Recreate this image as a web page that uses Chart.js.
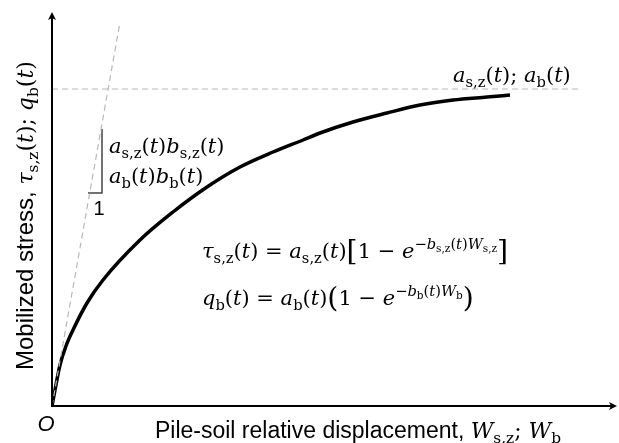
<!DOCTYPE html>
<html>
<head>
<meta charset="utf-8">
<script src="https://cdn.jsdelivr.net/npm/chart.js@4"></script>
<style>
  html, body { margin: 0; padding: 0; background: #fff; }
  #wrap { width: 619px; height: 443px; }
</style>
</head>
<body>
<div id="wrap"><canvas id="chart" width="619" height="443"></canvas></div>
<script>
// curve (x = displacement, y = stress, arbitrary units)
const curveX = [0, 3, 8, 14, 21, 35, 51, 88, 121, 155, 188, 221, 251, 268, 301, 335, 368, 401, 435, 458];
const curveY = [0, 16, 41, 60, 76, 103, 126, 166, 194, 219, 239, 254, 266, 273, 284, 293, 301, 306, 309, 311];
const asymX = [0, 528];
const asymY = [317, 317];
const tangentX = [0, 68];
const tangentY = [0, 384];
const slopeX = [36, 50, 50];
const slopeY = [213, 213, 277];
const xMax = 565;
const yMax = 394;

const MATH = '"DejaVu Serif", serif';
const SANS = '"Liberation Sans", Arial, sans-serif';

function pts(xs, ys) {
    return xs.map((v, i) => ({ x: v, y: ys[i] }));
}

// kinds: s sans, i italic, r roman, b subscript, pi/pr superscript, pb sub in superscript, big bracket
const KIND = {
    s:   { f: SANS, st: '', k: 1.0, dy: 0 },
    i:   { f: MATH, st: 'italic ', k: 1.0, dy: 0 },
    r:   { f: MATH, st: '', k: 1.0, dy: 0 },
    b:   { f: MATH, st: '', k: 0.7, dy: 0.22 },
    pi:  { f: MATH, st: 'italic ', k: 0.7, dy: -0.42 },
    pr:  { f: MATH, st: '', k: 0.7, dy: -0.42 },
    pb:  { f: MATH, st: '', k: 0.5, dy: -0.3 },
    big: { f: MATH, st: '', k: 1.35, dy: 0.1 }
};

function richWidth(ctx, segs, size, sansSize) {
    let w = 0;
    segs.forEach(([t, k]) => {
        const d = KIND[k];
        const fs = k === 's' ? sansSize : size * d.k;
        ctx.font = d.st + fs + 'px ' + d.f;
        w += ctx.measureText(t).width;
    });
    return w;
}

function drawRich(ctx, segs, x, y, size, opts = {}) {
    const sansSize = opts.sans || size;
    let cx = x;
    if (opts.align === 'center') cx = x - richWidth(ctx, segs, size, sansSize) / 2;
    ctx.textBaseline = 'alphabetic';
    ctx.textAlign = 'left';
    segs.forEach(([t, k]) => {
        const d = KIND[k];
        const fs = k === 's' ? sansSize : size * d.k;
        ctx.font = d.st + fs + 'px ' + d.f;
        ctx.fillText(t, cx, y + d.dy * size);
        cx += ctx.measureText(t).width;
    });
}

const topLabel = [['a', 'i'], ['s,z', 'b'], ['(', 'r'], ['t', 'i'], ['); ', 'r'], ['a', 'i'], ['b', 'b'], ['(', 'r'], ['t', 'i'], [')', 'r']];
const slope1 = [['a', 'i'], ['s,z', 'b'], ['(', 'r'], ['t', 'i'], [')', 'r'], ['b', 'i'], ['s,z', 'b'], ['(', 'r'], ['t', 'i'], [')', 'r']];
const slope2 = [['a', 'i'], ['b', 'b'], ['(', 'r'], ['t', 'i'], [')', 'r'], ['b', 'i'], ['b', 'b'], ['(', 'r'], ['t', 'i'], [')', 'r']];
const eq1 = [['τ', 'i'], ['s,z', 'b'], ['(', 'r'], ['t', 'i'], [') = ', 'r'], ['a', 'i'], ['s,z', 'b'], ['(', 'r'], ['t', 'i'], [')', 'r'],
    ['[', 'big'], ['1 − ', 'r'], ['e', 'i'], ['−', 'pr'], ['b', 'pi'], ['s,z', 'pb'], ['(', 'pr'], ['t', 'pi'], [')', 'pr'], ['W', 'pi'], ['s,z', 'pb'], [']', 'big']];
const eq2 = [['q', 'i'], ['b', 'b'], ['(', 'r'], ['t', 'i'], [') = ', 'r'], ['a', 'i'], ['b', 'b'], ['(', 'r'], ['t', 'i'], [')', 'r'],
    ['(', 'big'], ['1 − ', 'r'], ['e', 'i'], ['−', 'pr'], ['b', 'pi'], ['b', 'pb'], ['(', 'pr'], ['t', 'pi'], [')', 'pr'], ['W', 'pi'], ['b', 'pb'], [')', 'big']];
const xTitle = [['Pile-soil relative displacement, ', 's'], ['W', 'i'], ['s,z', 'b'], ['; ', 'r'], ['W', 'i'], ['b', 'b']];
const yTitle = [['Mobilized stress, ', 's'], ['τ', 'i'], ['s,z', 'b'], ['(', 'r'], ['t', 'i'], ['); ', 'r'], ['q', 'i'], ['b', 'b'], ['(', 'r'], ['t', 'i'], [')', 'r']];

function arrow(ctx, tx, ty, dir) {
    // dir: 'right' or 'up'
    ctx.beginPath();
    if (dir === 'right') {
        ctx.moveTo(tx, ty);
        ctx.lineTo(tx - 8, ty - 4);
        ctx.lineTo(tx - 6, ty);
        ctx.lineTo(tx - 8, ty + 4);
    } else {
        ctx.moveTo(tx, ty);
        ctx.lineTo(tx - 4, ty + 8);
        ctx.lineTo(tx, ty + 6);
        ctx.lineTo(tx + 4, ty + 8);
    }
    ctx.closePath();
    ctx.fill();
}

const overlay = {
    id: 'overlay',
    afterDatasetsDraw(chart) {
        const { ctx, scales: { x, y } } = chart;
        const px = v => x.getPixelForValue(v);
        const py = v => y.getPixelForValue(v);
        ctx.save();
        ctx.fillStyle = '#000';
        ctx.strokeStyle = '#000';
        ctx.lineWidth = 2;
        // axes
        ctx.beginPath();
        ctx.moveTo(px(0), py(yMax) + 4);
        ctx.lineTo(px(0), py(0));
        ctx.lineTo(px(xMax) - 4, py(0));
        ctx.stroke();
        arrow(ctx, px(xMax), py(0), 'right');
        arrow(ctx, px(0), py(yMax), 'up');

        ctx.fillStyle = '#000';
        drawRich(ctx, topLabel, px(401), py(324), 21);
        drawRich(ctx, slope1, px(57), py(253), 21);
        drawRich(ctx, slope2, px(57), py(223), 21);
        drawRich(ctx, eq1, px(150), py(148), 21);
        drawRich(ctx, eq2, px(150), py(101), 21);
        drawRich(ctx, [['1', 's']], px(47), py(191), 21, { align: 'center', sans: 20 });

        ctx.font = 'italic 22px ' + SANS;
        ctx.textAlign = 'center';
        ctx.fillText('O', px(0) - 6, py(0) + 25);

        drawRich(ctx, xTitle, 358, 438, 22, { align: 'center', sans: 23 });

        ctx.translate(33, 370);
        ctx.rotate(-Math.PI / 2);
        drawRich(ctx, yTitle, 0, 0, 22, { sans: 24 });
        ctx.restore();
    }
};

new Chart(document.getElementById('chart'), {
    type: 'scatter',
    data: {
        datasets: [
            {
                data: pts(asymX, asymY), showLine: true, borderColor: '#b8b8b8',
                borderWidth: 1.2, borderDash: [6, 4], pointRadius: 0
            },
            {
                data: pts(tangentX, tangentY), showLine: true, borderColor: '#b8b8b8',
                borderWidth: 1.2, borderDash: [6, 4], pointRadius: 0
            },
            {
                data: pts(slopeX, slopeY), showLine: true, borderColor: '#444',
                borderWidth: 1.5, pointRadius: 0
            },
            {
                data: pts(curveX, curveY), showLine: true, borderColor: '#000',
                borderWidth: 3.5, pointRadius: 0, cubicInterpolationMode: 'monotone'
            }
        ]
    },
    options: {
        responsive: false,
        animation: false,
        layout: { padding: { left: 52, right: 2, top: 12, bottom: 37 } },
        plugins: { legend: { display: false }, tooltip: { enabled: false } },
        scales: {
            x: { type: 'linear', min: 0, max: xMax, display: false },
            y: { type: 'linear', min: 0, max: yMax, display: false }
        }
    },
    plugins: [overlay]
});
</script>
</body>
</html>
